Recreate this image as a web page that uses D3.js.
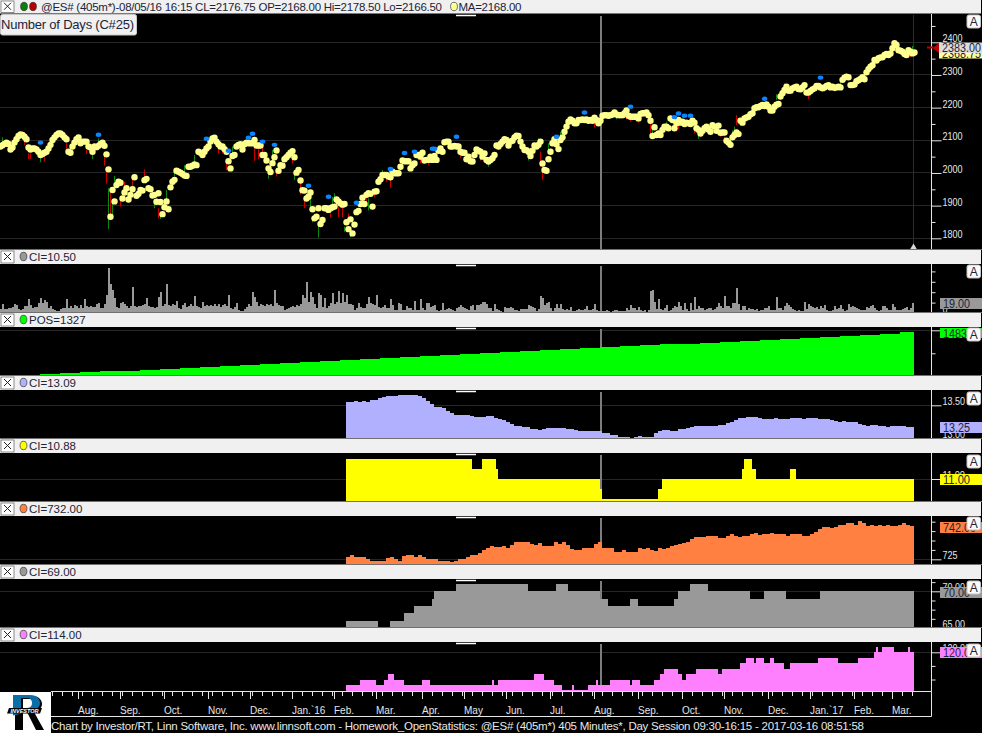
<!DOCTYPE html>
<html>
<head>
<meta charset="utf-8">
<script src="https://cdn.jsdelivr.net/npm/d3@7"></script>
<style>
  html, body { margin: 0; padding: 0; background: #000; overflow: hidden; }
  svg { display: block; }
  text { font-family: "Liberation Sans", sans-serif; }
</style>
</head>
<body>
<div id="chart"></div>
<script>
// closing price per bar
const closes = [
  2081,2085,2089,2093,2089,2072,2078,2093,2103,2113,2118,2116,2111,2103,2078,2072,2075,2075,2072,2065,
  2055,2058,2062,2065,2075,2086,2101,2109,2116,2121,2121,2116,2109,2103,2065,2062,2081,2093,2103,2109,
  2091,2096,2096,2096,2081,2078,2065,2081,2079,2083,2089,2093,2083,2057,2011,1866,1948,1913,1963,1973,
  1970,1922,1940,1953,1919,1933,1950,1987,1930,1936,1948,1946,1978,1982,1953,1950,1931,1933,1912,1938,
  1911,1874,1895,1913,1889,1956,1973,1979,2007,2004,2001,1997,1992,1991,2019,2019,2022,2026,2024,2065,
  2062,2055,2065,2075,2081,2096,2106,2108,2096,2088,2081,2081,2073,2065,2036,2014,2052,2055,2081,2086,
  2088,2072,2088,2093,2091,2091,2091,2101,2084,2084,2084,2055,2055,2038,2014,2003,2030,2048,2069,2007,
  2024,2022,2042,2048,2055,2062,2067,2048,2001,2009,1977,1947,1946,1922,1927,1940,1889,1861,1866,1892,
  1844,1856,1892,1892,1887,1892,1895,1897,1919,1913,1907,1903,1905,1849,1828,1858,1815,1842,1880,1884,
  1905,1924,1905,1933,1938,1936,1897,1943,1944,1973,1981,1994,1994,1994,1989,1987,2004,1999,1999,1999,
  2019,2038,2036,2036,2036,2014,2024,2029,2055,2055,2050,2062,2038,2040,2040,2050,2040,2052,2040,2068,
  2075,2065,2094,2096,2096,2081,2081,2083,2081,2081,2065,2062,2062,2042,2050,2036,2035,2055,2072,2068,
  2065,2050,2060,2040,2035,2040,2045,2055,2084,2081,2089,2096,2103,2101,2084,2096,2099,2109,2114,2113,
  2096,2081,2070,2070,2065,2052,2068,2084,2081,2086,2096,2029,2009,2007,2042,2065,2091,2103,2088,2073,
  2101,2109,2126,2142,2157,2164,2160,2152,2152,2162,2162,2164,2162,2164,2160,2162,2160,2169,2162,2152,
  2160,2175,2177,2177,2175,2177,2179,2185,2179,2177,2177,2177,2183,2191,2175,2172,2172,2172,2172,2167,
  2181,2183,2183,2185,2177,2160,2113,2140,2116,2121,2116,2132,2142,2142,2137,2167,2162,2137,2152,2162,
  2154,2157,2150,2154,2152,2150,2160,2154,2137,2132,2121,2129,2137,2142,2133,2126,2146,2142,2129,2145,
  2123,2124,2124,2099,2093,2086,2109,2116,2124,2119,2160,2154,2167,2170,2172,2180,2183,2198,2201,2201,
  2205,2208,2205,2210,2203,2191,2191,2203,2209,2211,2234,2244,2254,2264,2252,2252,2259,2262,2264,2257,
  2256,2262,2269,2246,2246,2251,2256,2259,2266,2266,2262,2259,2262,2266,2269,2262,2264,2261,2262,2264,
  2262,2285,2292,2295,2293,2269,2269,2271,2281,2284,2288,2293,2287,2308,2318,2325,2330,2346,2344,2351,
  2354,2354,2361,2364,2361,2366,2382,2397,2392,2376,2374,2371,2364,2361,2376,2371,2366,2369
];

const greenWickBars = [1,8,20,46,49,54,56,57,77,80,83,87,92,97,116,134,136,147,155,156,159,166,167,172,175,184,191,244,264,269,274,280,308,326,333,349,366,367,388,392,420,432,436,446,456];
const greenWickHigh = [2109,2118,2050,2062,2106,1953,1917,1991,1917,1876,1948,2009,2024,2055,2081,2004,2070,1999,1927,1861,1851,1927,1938,1836,1820,1922,2009,2029,2055,2106,2091,2126,2177,2147,2157,2116,2130,2142,2241,2274,2282,2310,2351,2404,2389];
const greenWickLow = [2091,2101,2033,2043,2091,1828,1871,1973,1892,1859,1912,1989,2004,2029,2055,1982,2029,1978,1887,1849,1802,1902,1917,1820,1803,1885,1994,2019,2038,2091,2065,2111,2164,2121,2147,2104,2116,2121,2223,2259,2269,2300,2331,2387,2376];

const redWickBars = [12,14,15,22,33,43,52,53,55,60,62,66,72,79,109,111,113,127,129,131,138,146,150,152,161,165,169,171,174,183,187,193,195,210,214,229,230,240,261,270,271,297,313,315,319,325,339,347,350,360,362,368,384,393,404,412,417,424,455];
const redWickHigh = [2104,2060,2060,2050,2091,2070,2050,2009,1948,1917,1973,1978,2011,1892,2081,2081,2029,2075,2075,2081,2009,2050,1968,1919,1856,1876,1897,1897,1876,1922,1948,1989,1984,2050,2033,2091,2060,2050,2091,2065,2014,2157,2172,2170,2162,2150,2144,2142,2116,2116,2111,2177,2188,2249,2244,2254,2254,2269,2361];
const redWickLow = [2086,2043,2043,2035,2070,2058,2022,1968,1871,1897,1948,1950,1978,1861,2060,2060,2009,2037,2042,2060,1989,2029,1933,1892,1841,1864,1864,1864,1856,1912,1925,1973,1955,2029,2024,2075,2045,2038,2065,2019,1978,2139,2164,2157,2154,2116,2134,2121,2111,2111,2091,2147,2183,2244,2226,2249,2249,2262,2354];

const blueBars = [20,49,103,114,124,126,131,137,154,164,178,195,202,207,216,217,228,278,292,315,337,339,342,345,382,410];
const bluePrices = [2093,2117,2105,2068,2108,2120,2096,2086,1961,1927,1909,2012,2061,2065,2074,2074,2111,2111,2185,2203,2171,2182,2175,2175,2227,2292];

// volume style CI pane, one value per bar
const volumeValues = [
  8,18,8,7,10,9,11,18,16,8,6,8,14,14,26,16,10,11,12,20,29,20,25,22,10,13,8,5,4,3,
  7,10,9,26,10,13,9,16,14,9,16,9,26,14,12,13,11,12,17,19,10,10,18,35,87,56,45,28,12,10,
  20,22,18,14,10,13,50,14,12,14,13,15,18,29,14,12,12,10,12,30,40,14,18,55,16,14,18,16,24,10,
  8,16,20,12,13,18,14,32,14,12,10,22,14,16,14,15,13,18,14,18,12,16,18,14,35,10,8,12,19,6,
  4,3,8,12,18,14,40,30,22,14,18,16,14,18,16,17,14,44,20,16,14,14,6,8,10,12,14,12,16,14,
  18,35,28,60,22,40,30,18,10,38,35,12,28,10,14,
  19,38,18,22,42,20,38,22,35,18,17,15,6,10,20,12,9,10,18,31,19,17,15,35,12,9,12,15,9,10,
  26,15,6,6,19,18,5,6,13,9,10,5,24,5,5,26,9,5,19,19,12,13,16,6,3,5,19,6,8,10,
  8,6,4,9,12,16,12,9,8,5,14,16,6,16,15,18,22,22,18,10,9,4,18,8,6,3,2,12,10,10,
  12,9,5,5,3,8,8,8,8,16,14,12,10,4,8,32,29,16,20,22,9,4,10,18,9,18,8,6,8,6,
  12,3,4,5,8,5,6,8,13,6,5,8,18,5,3,4,4,3,6,4,2,3,5,6,3,3,3,3,10,5,
  16,10,10,6,12,5,4,5,2,5,42,44,22,8,26,
  7,6,10,16,4,6,10,14,12,22,13,5,19,8,4,19,5,31,8,13,10,9,6,8,9,10,5,8,12,19,
  14,9,32,14,13,10,19,19,48,18,6,13,13,5,9,8,8,6,8,3,5,6,9,10,14,6,5,6,31,10,
  9,6,13,19,15,12,8,5,4,5,3,4,22,8,18,13,12,9,12,8,14,9,16,5,4,4,6,13,8,9,
  16,8,4,5,17,12,13,12,9,8,5,5,6,12,10,13,16,9,6,4,5,13,13,9,6,6,18,12,5,5,
  6,8,9,12,5,9,19
];

// POS counter, one value per 10 bars
const posValues = [1,33,66,98,130,163,195,228,260,293,325,358,390,423,455,488,520,553,585,618,650,683,715,748,780,813,845,878,910,943,975,1008,1040,1073,1105,1138,1170,1203,1235,1268,1300,1333,1365,1398,1430,1483];

// CI panes start at this bar
const ciFirstBar = 173;

// one value per 2 bars
const purpleValues = [
  13.55,13.55,13.56,13.555,13.56,13.555,13.575,13.58,13.615,13.625,13.64,13.64,13.64,13.65,13.655,13.655,13.655,13.655,13.64,13.61,
  13.56,13.52,13.475,13.47,13.455,13.42,13.39,13.36,13.35,13.35,13.35,13.34,13.33,13.32,13.33,13.34,13.34,13.31,13.30,13.28,
  13.24,13.21,13.19,13.18,13.17,13.17,13.14,13.14,13.13,13.14,13.16,13.16,13.16,13.16,13.15,13.14,13.14,13.12,13.11,13.11,
  13.11,13.11,13.11,13.105,13.085,13.075,13.05,13.045,13.025,13.015,13.015,13.01,13.015,13.03,13.025,13.025,13.025,13.085,13.105,
  13.13,13.12,13.115,13.115,13.14,13.145,13.16,13.17,13.18,13.18,13.18,13.18,13.19,13.185,13.195,13.205,13.23,13.24,13.28,13.31,
  13.31,13.32,13.32,13.32,13.31,13.30,13.30,13.30,13.305,13.30,13.30,13.30,13.305,13.305,13.305,13.30,13.305,13.305,13.305,13.30,
  13.30,13.29,13.27,13.26,13.25,13.26,13.25,13.25,13.24,13.22,13.20,13.19,13.195,13.195,13.185,13.18,13.17,13.18,13.18,13.18,13.18,13.17,13.175
];

const orangeValues = [
  726,727.1,726.2,726.2,726.2,725.2,724.1,724.1,724.1,724.1,725.7,726.2,725,724.3,726.8,727.1,727.1,726.2,727.1,726.2,
  725.2,725.2,725.2,724.1,724.1,724.1,723.6,724.3,725.2,725.2,726.2,727.1,727.1,728.5,729.8,730.8,732.1,731.5,731.5,732.1,
  731,732.8,734.2,734.4,734.2,734.2,733.3,732.4,733.8,732.1,732.1,732.1,734,733,734,732.8,730.3,729.9,729.9,730.8,
  730.8,731.2,733,734,731.2,730.8,730.8,729,729,729.9,729,729,729,730.8,730.3,730.8,729.9,729.5,731,
  730.7,730.8,731.9,732.6,733.1,733.9,734.2,736,737,736.7,737,737.2,737.2,737.2,736.5,736.5,737.6,738.3,737.4,737,
  737.4,737.2,738.5,739.2,738,738.5,738.5,738.8,738.3,738.5,738.3,737.6,738.3,738.3,738.3,737.6,737.6,738.6,739.7,741,
  742,742,741.7,742.4,743.4,743.4,744.1,744.1,743.4,745.2,744.1,742.7,743.1,742.7,743.4,742.7,743.4,742.7,742.7,743.4,744.1,743.4,742.7
];

// these three only change now and then, so they are kept as first bar of each level
const yellowBars = [173,236,241,248,249,300,301,329,331,371,372,376,378,395,398];
const yellowLevels = [11.2,11.1,11.2,11.1,11.0,10.9,10.8,10.9,11.0,11.1,11.2,11.1,11.0,11.1,11.0];

const grayBars = [173,189,195,202,207,216,217,228,264,278,284,300,304,315,319,337,339,345,354,375,382,393,410];
const grayLevels = [66,65,66,67,68,69,70,71,70,71,70,69,68,69,68,69,70,71,70,69,70,69,70];

const pinkBars = [173,180,188,192,194,197,202,211,215,246,247,249,267,272,277,281,286,287,294,298,299,305,315,316,320,327,330,332,339,341,343,348,359,361,370,373,377,378,382,385,387,392,395,409,419,429,437,438,439,441,447,454,455];
const pinkLevels = [114,115,114,115,116,115,114,115,114,115,114,115,116,115,114,113,114,113,114,115,114,115,114,115,114,115,116,117,116,115,116,117,116,117,118,119,118,119,118,119,118,117,118,119,118,119,120,121,120,121,120,121,120];

const monthBars = [39,60,82,104,125,146,167,188,211,232,253,275,297,319,341,362,384,405,427,446];
const monthLabels = ["Aug.","Sep.","Oct.","Nov.","Dec.","Jan.`16","Feb.","Mar.","Apr.","May","Jun.","Jul.","Aug.","Sep.","Oct.","Nov.","Dec.","Jan.`17","Feb.","Mar."];

const priceMajorTicks = [1800,1900,2000,2100,2200,2300,2400];
const priceMinorTicks = [1850,1950,2050,2150,2250,2350,2450];

const lastBar = 457;
const axisX = 931.5;
const cursorBar = 300;

var svg = d3.select("#chart").append("svg")
  .attr("width", 982)
  .attr("height", 733)
  .style("background", "#000");

// bars are 2 pixels apart over the whole width
var xScale = d3.scaleLinear().domain([0, lastBar]).range([0, 914]);

var panes = [
  {name: "price", top: 14, bottom: 250, domain: [1800, 2400], range: [238.3, 42.3], title: "", major: priceMajorTicks, minor: priceMinorTicks,
   format: d3.format("d"), aTop: 15},
  {name: "volume", top: 264, bottom: 313, domain: [0, 80], range: [313, 271.4], title: "CI=10.50", color: "#999999", major: [0], minor: [20,40,60,80],
   format: d3.format("d"), tag: "19.00", tagTop: 298, aTop: 265, grid: false},
  {name: "pos", top: 327, bottom: 376.5, domain: [0, 1550], range: [376.3, 330.3], title: "POS=1327", color: "#00ff00", major: [1550], minor: [775],
   format: () => "", tag: "1483", tagTop: 328, aTop: 328},
  {name: "purple", top: 390, bottom: 439.5, domain: [13, 13.5], range: [438.3, 405.3], title: "CI=13.09", color: "#b0b0ff", major: [13, 13.5], minor: [],
   format: d3.format(".2f"), tag: "13.25", tagTop: 422, aTop: 392},
  {name: "yellow", top: 453, bottom: 502.5, domain: [10.8, 11], range: [499, 479], title: "CI=10.88", color: "#ffff00", major: [11], minor: [],
   format: d3.format(".2f"), tag: "11.00", tagTop: 474, aTop: 455},
  {name: "orange", top: 516, bottom: 565.5, domain: [725, 745], range: [559.3, 521.7], title: "CI=732.00", color: "#ff8040", major: [725], minor: [730,735,740,745],
   format: d3.format("d"), tag: "742.00", tagTop: 522, aTop: 517},
  {name: "gray", top: 579, bottom: 628.5, domain: [65, 70], range: [628, 591.3], title: "CI=69.00", color: "#999999", major: [65, 70], minor: [66.25,67.5,68.75,71.25],
   format: d3.format(".2f"), tag: "70.00", tagTop: 587, aTop: 581},
  {name: "pink", top: 642, bottom: 691.5, domain: [115, 120], range: [679.5, 652.3], title: "CI=114.00", color: "#ff80ff", major: [120], minor: [115,117.5],
   format: d3.format(".2f"), tag: "120.00", tagTop: 647, aTop: 644}
];

panes.forEach(function(p) {
  p.y = d3.scaleLinear().domain(p.domain).range(p.range);
  p.g = svg.append("g");

  // horizontal grid lines
  if (p.grid !== false) {
    p.g.selectAll(".grid")
      .data(p.major.filter(d => p.y(d) > p.top))
      .enter().append("line")
      .attr("x1", 0).attr("x2", axisX)
      .attr("y1", d => Math.floor(p.y(d)) + 0.5).attr("y2", d => Math.floor(p.y(d)) + 0.5)
      .attr("stroke", "#262626");
  }

  // cursor line
  p.g.append("line")
    .attr("x1", xScale(cursorBar) + 1).attr("x2", xScale(cursorBar) + 1)
    .attr("y1", p.top + 2).attr("y2", p.bottom)
    .attr("stroke", "#7d7d7d").attr("stroke-width", 2);

  // small handle at the top of the pane
  p.g.append("line")
    .attr("x1", 456).attr("x2", 476)
    .attr("y1", p.top + 1.5).attr("y2", p.top + 1.5)
    .attr("stroke", "#fff").attr("stroke-width", 1.5);
});

// area drawn as steps, each value holds until the next bar
function drawSteps(p, bars, values) {
  var points = bars.map((b, i) => ({bar: b, value: values[i]}));
  points.push({bar: lastBar, value: values[values.length - 1]});
  var area = d3.area()
    .x(d => xScale(d.bar))
    .y0(p.bottom)
    .y1(d => p.y(d.value))
    .curve(d3.curveStepAfter);
  p.g.append("path")
    .datum(points)
    .attr("d", area)
    .attr("fill", p.color)
    .attr("shape-rendering", "crispEdges");
}

const paneByName = {};
panes.forEach(p => paneByName[p.name] = p);

drawSteps(paneByName.volume, volumeValues.map((d, i) => i), volumeValues);
drawSteps(paneByName.pos, posValues.map((d, i) => i * 10), posValues);
drawSteps(paneByName.purple, purpleValues.map((d, i) => ciFirstBar + i * 2), purpleValues);
drawSteps(paneByName.yellow, yellowBars, yellowLevels);
drawSteps(paneByName.orange, orangeValues.map((d, i) => ciFirstBar + i * 2), orangeValues);
drawSteps(paneByName.gray, grayBars, grayLevels);
drawSteps(paneByName.pink, pinkBars, pinkLevels);

// price pane
var price = paneByName.price;

price.g.append("line")
  .attr("x1", xScale(lastBar) - 0.5).attr("x2", xScale(lastBar) - 0.5)
  .attr("y1", price.top + 1).attr("y2", price.bottom)
  .attr("stroke", "#2c2c2c");

function drawWicks(bars, highs, lows, color) {
  price.g.selectAll(null)
    .data(bars)
    .enter().append("line")
    .attr("x1", d => Math.round(xScale(d)) + 0.5)
    .attr("x2", d => Math.round(xScale(d)) + 0.5)
    .attr("y1", (d, i) => price.y(highs[i]))
    .attr("y2", (d, i) => price.y(lows[i]))
    .attr("stroke", color);
}
drawWicks(greenWickBars, greenWickHigh, greenWickLow, "#0a8a0a");
drawWicks(redWickBars, redWickHigh, redWickLow, "#c80000");

price.g.selectAll(".close")
  .data(closes)
  .enter().append("circle")
  .attr("cx", (d, i) => xScale(i) + 0.5)
  .attr("cy", d => price.y(d))
  .attr("r", 3.2)
  .attr("fill", "#ffff90");

price.g.selectAll(".blue")
  .data(blueBars)
  .enter().append("ellipse")
  .attr("cx", d => xScale(d) + 0.5)
  .attr("cy", (d, i) => price.y(bluePrices[i]))
  .attr("rx", 2.8).attr("ry", 2.2)
  .attr("fill", "#0a84ff");

// little marker under the last bar
price.g.append("path")
  .attr("d", d3.symbol().type(d3.symbolTriangle).size(22))
  .attr("transform", "translate(" + (xScale(lastBar) - 0.5) + ",247.5)")
  .attr("fill", "#d8d8d8");

// width of a number when digits are as wide as the picture has them
function numberWidth(label, digit) {
  return label.replace(/\./g, "").length * digit + (label.split(".").length - 1) * digit / 2;
}

// right hand axes
panes.forEach(function(p) {
  var allTicks = p.major.concat(p.minor);
  var axis = d3.axisRight(p.y)
    .tickValues(allTicks)
    .tickSize(10)
    .tickPadding(0)
    .tickFormat(p.format);

  var g = p.g.append("g")
    .attr("transform", "translate(" + axisX + ",0)")
    .call(axis);

  g.select(".domain").remove();
  g.selectAll(".tick")
    .filter(d => p.y(d) < p.top || p.y(d) > p.bottom)
    .remove();
  g.selectAll(".tick line")
    .attr("x2", d => p.major.includes(d) ? 10 : 4)
    .attr("stroke", "#e6e6e6");
  g.selectAll(".tick text")
    .text(d => p.major.includes(d) ? p.format(d) : "")
    .attr("x", 11)
    .attr("y", -4)
    .attr("fill", "#e6e6e6")
    .style("font-family", '"Liberation Sans", sans-serif')
    .style("font-size", "10.5px")
    .each(function(d) {
      var label = p.major.includes(d) ? p.format(d) : "";
      if (label) d3.select(this).attr("textLength", numberWidth(label, 5)).attr("lengthAdjust", "spacingAndGlyphs");
    });

  p.g.append("line")
    .attr("x1", axisX).attr("x2", axisX)
    .attr("y1", p.top).attr("y2", p.bottom)
    .attr("stroke", "#e6e6e6");
});

// value tags on the axes
function drawTag(x, y, h, label, fill) {
  svg.append("rect").attr("x", x).attr("y", y).attr("width", 982 - x).attr("height", h).attr("fill", fill);
  svg.append("text").attr("x", x + 3).attr("y", y + h / 2 + 4.5)
    .attr("fill", "#1b2438").style("font-size", "12px")
    .attr("textLength", numberWidth(label, 6)).attr("lengthAdjust", "spacingAndGlyphs")
    .text(label);
}

drawTag(939, 48, 10.5, "2368.75", "#ffff99");
drawTag(939, 42.5, 10.5, "2383.00", "#dcdcdc");
panes.filter(p => p.tag).forEach(function(p) {
  var fill = p.name === "pos" ? "#00ff00" : p.color;
  drawTag(940, p.tagTop, p.name === "pos" ? 10 : 11, p.tag, fill);
});

// red marker beside the price tag
svg.append("path")
  .attr("d", d3.line()([[939, 43], [932.7, 48], [939, 53]]))
  .attr("fill", "#c00000");
svg.append("line")
  .attr("x1", 927).attr("x2", 933)
  .attr("y1", 47.5).attr("y2", 47.5)
  .attr("stroke", "#c00000").attr("stroke-width", 2);

// pane headers
function drawHeader(y, h) {
  svg.append("rect").attr("x", 0).attr("y", y).attr("width", 981).attr("height", h).attr("fill", "#f0f0f0");
  svg.append("rect").attr("x", 1).attr("y", y + 1).attr("width", 13).attr("height", h - 2).attr("fill", "#fff").attr("stroke", "#444").attr("stroke-width", 0.6);
  var cy = y + h / 2;
  svg.append("path")
    .attr("d", "M4," + (cy - 4) + "L11," + (cy + 3) + "M11," + (cy - 4) + "L4," + (cy + 3))
    .attr("stroke", "#222").attr("fill", "none");
}

function drawDot(x, y, color) {
  svg.append("ellipse").attr("cx", x).attr("cy", y).attr("rx", 3.4).attr("ry", 4.2)
    .attr("fill", color).attr("stroke", "#333").attr("stroke-width", 0.7);
}

function headerText(x, y, label, length) {
  var t = svg.append("text").attr("x", x).attr("y", y + 4).attr("fill", "#1b2438")
    .style("font-size", "11.5px").text(label);
  if (length) t.attr("textLength", length).attr("lengthAdjust", "spacing");
}

drawHeader(0, 13.5);
drawDot(24, 6.5, "#0a800a");
drawDot(33, 6.5, "#b80000");
headerText(41, 6.5, "@ES# (405m*)-08/05/16 16:15 CL=2176.75 OP=2168.00 Hi=2178.50 Lo=2166.50", 401);
drawDot(454, 6.5, "#ffff99");
headerText(458.5, 6.5, "MA=2168.00", 63);

panes.filter(p => p.title).forEach(function(p) {
  var y = p.top - 14;
  svg.append("line").attr("x1", 0).attr("x2", 982).attr("y1", y - 0.5).attr("y2", y - 0.5).attr("stroke", "#707070");
  drawHeader(y, 14);
  drawDot(23.5, y + 6.5, p.color);
  headerText(29, y + 7, p.title);
});

// buttons with the A
panes.forEach(function(p) {
  svg.append("rect")
    .attr("x", 967).attr("y", p.aTop).attr("width", 13.5).attr("height", 13).attr("rx", 2)
    .attr("fill", "#fafafa").attr("stroke", "#c4c4c4");
  svg.append("text").attr("x", 973.75).attr("y", p.aTop + 10.5).attr("text-anchor", "middle")
    .attr("fill", "#1b2438").style("font-size", "12px").text("A");
});

// study name box
svg.append("rect").attr("x", 0.5).attr("y", 14.5).attr("width", 136).attr("height", 20.5).attr("rx", 2)
  .attr("fill", "#f0f0f0").attr("stroke", "#c8c8c8");
svg.append("text").attr("x", 1).attr("y", 29).attr("fill", "#1b2438")
  .attr("textLength", 133).attr("lengthAdjust", "spacing")
  .style("font-size", "13px").text("Number of Days (C#25)");

// time axis
var timeAxis = d3.axisBottom(xScale)
  .tickValues(d3.range(1, lastBar, 5))
  .tickSize(4)
  .tickFormat("");
svg.append("g")
  .attr("transform", "translate(0,692)")
  .call(timeAxis)
  .call(g => g.select(".domain").remove())
  .call(g => g.selectAll(".tick line").attr("stroke", "#e6e6e6"))
  .call(g => g.selectAll(".tick").filter(d => xScale(d) < 51).remove());

svg.selectAll(".month-tick")
  .data(monthBars)
  .enter().append("line")
  .attr("x1", d => Math.round(xScale(d)) + 0.5).attr("x2", d => Math.round(xScale(d)) + 0.5)
  .attr("y1", 692).attr("y2", 699)
  .attr("stroke", "#e6e6e6");

svg.selectAll(".month-label")
  .data(monthLabels)
  .enter().append("text")
  .attr("x", (d, i) => xScale(monthBars[i]))
  .attr("y", 714)
  .attr("fill", "#e6e6e6")
  .style("font-size", "10px")
  .text(d => d);

// frame round the time axis
svg.append("path")
  .attr("d", "M51,691.5H931.5V716.5H51")
  .attr("fill", "none").attr("stroke", "#e6e6e6");

// footer
svg.append("text").attr("x", 51).attr("y", 730)
  .attr("fill", "#e8e8e8")
  .attr("textLength", 813).attr("lengthAdjust", "spacing")
  .style("font-size", "11.5px")
  .text("Chart by Investor/RT, Linn Software, Inc. www.linnsoft.com - Homework_OpenStatistics: @ES# (405m*) 405 Minutes*, Day Session 09:30-16:15 - 2017-03-16 08:51:58");

// logo, an R with a band across it
var logoR = "M0,0H17C25,0 27,5 27,8C27,13 22,15 19,16L29,34H21L12,16H8V34H0ZM8,3V13H14C18,13 19,10 19,8C19,5 17,3 14,3Z";
svg.append("rect").attr("x", 0).attr("y", 692).attr("width", 51).attr("height", 41).attr("fill", "#fff");
svg.append("path").attr("d", logoR).attr("fill", "#000").attr("fill-rule", "evenodd").attr("transform", "translate(15,696)");
svg.append("path").attr("d", logoR).attr("fill", "#0a6ea8").attr("fill-rule", "evenodd")
  .attr("transform", "translate(13,695)").style("clip-path", "polygon(0 0, 100% 0, 100% 42%, 0 60%)");
svg.append("path").attr("d", "M9,708H42L40,713.5H7Z").attr("fill", "#000");
svg.append("text").attr("x", 24.5).attr("y", 713).attr("text-anchor", "middle").attr("fill", "#fff")
  .style("font-weight", "bold").style("font-style", "italic").style("font-size", "5.5px").text("INVESTOR");
</script>
</body>
</html>
